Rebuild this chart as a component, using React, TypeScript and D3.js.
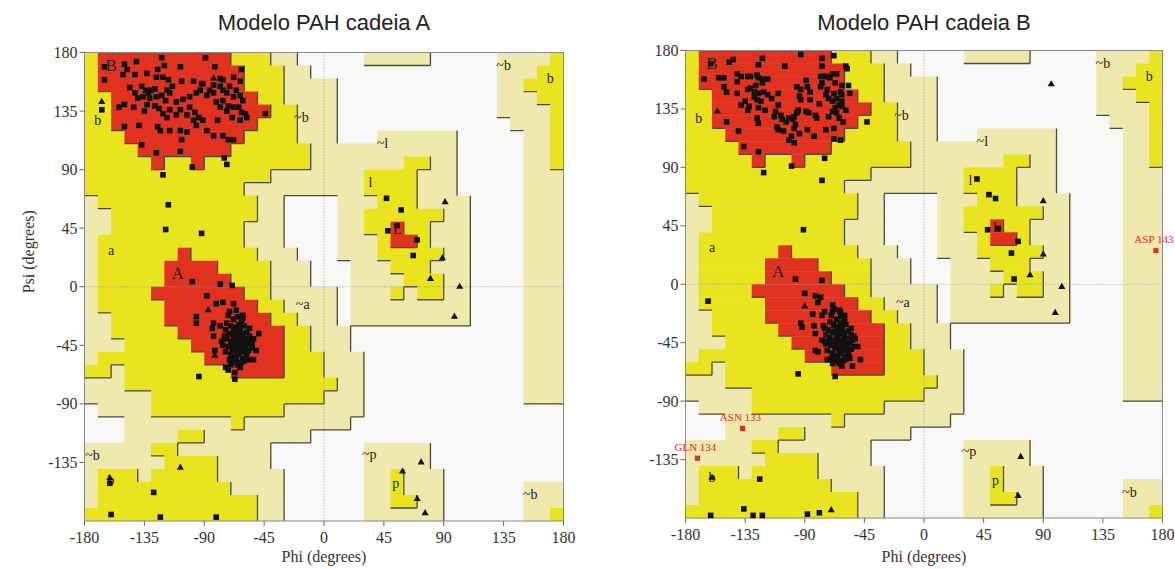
import React from "react";
import * as d3 from "d3";

// region map: 36 rows (psi 180 -> -180) x 36 cols (phi -180 -> 180), 10 degree cells
// run-length: letter + count. "." none, g generous, y allowed, r core
const regionRuns = [
  "y1 r10 y3 g2 .5 g5 .5 g4 y1",
  "y1 r11 y3 g2 .14 g3 y2",
  "y1 r11 y3 g4 .12 g2 y3",
  "y2 r11 y2 g4 .12 g3 y2",
  "y2 r12 y2 g3 .12 g4 y1",
  "y2 r11 y3 g3 .13 g3 y1",
  "y3 r9 y4 g3 .3 g6 .5 g2 y1",
  "y4 r7 y6 g11 .5 g2 y1",
  "y5 r1 y2 r1 y8 g7 y2 g2 .5 g2 y1",
  "y14 g7 y4 g3 .5 g3",
  "y12 g9 y4 g3 .5 g3",
  "g1 y12 g2 .4 g3 y3 g4 .4 g3",
  "g2 y11 g2 .4 g2 y6 g2 .4 g3",
  "g2 y10 g3 .4 g2 y2 r1 y2 g3 .4 g3",
  "g1 y11 g3 .4 g3 y1 r2 y1 g3 .4 g3",
  "g1 y6 r1 y5 g3 .3 g3 y5 g2 .4 g3",
  "g1 y5 r4 y4 g3 .3 g3 y3 g3 .4 g3",
  "g1 y5 r5 y3 g3 .3 g4 y3 g2 .4 g3",
  "g1 y4 r7 y2 g5 .1 g3 y1 g1 y2 g2 .4 g3",
  "g1 y5 r7 y2 g4 .1 g9 .4 g3",
  "g2 y4 r8 y2 g3 .1 g9 .4 g3",
  "g2 y5 r8 y2 g3 .13 g3",
  "g3 y5 r7 y2 g3 .13 g3",
  "g1 y8 r6 y3 g3 .12 g3",
  "y2 g1 y8 r4 y3 g3 .12 g3",
  "g3 y16 g2 .12 g3",
  "g5 y13 g3 .12 g3",
  ".1 g4 y10 g6 .15",
  ".3 g8 y1 g8 .16",
  ".3 g4 y2 g8 .19",
  "g5 y2 g7 .7 g5 .10",
  "g6 y4 g4 .7 g5 .10",
  "g1 y3 g1 y5 g5 .6 g2 y1 g3 .9",
  "g1 y10 g4 .6 g2 y1 g3 .6 g3",
  "g1 y12 g2 .6 g2 y2 g2 .6 g3",
  "y13 g2 .6 g6 .6 g2 y1",
];

const regionFill: Record<string, string> = { g: "#efe9ad", y: "#e9e41e", r: "#e0321f" };
const regionLevel: Record<string, number> = { ".": 0, g: 1, y: 2, r: 3 };

const phiTicks = [-180, -135, -90, -45, 0, 45, 90, 135, 180];
const psiTicks = [-135, -90, -45, 0, 45, 90, 135, 180];

const regionLabels = [
  { t: "B", phi: -160, psi: 170, big: true },
  { t: "b", phi: -170, psi: 128 },
  { t: "A", phi: -110, psi: 10, big: true },
  { t: "a", phi: -160, psi: 28 },
  { t: "~b", phi: -17, psi: 130 },
  { t: "~l", phi: 44, psi: 110 },
  { t: "l", phi: 35, psi: 80 },
  { t: "L", phi: 55, psi: 44 },
  { t: "~a", phi: -16, psi: -14 },
  { t: "~b", phi: -174, psi: -130 },
  { t: "b", phi: -160, psi: -149 },
  { t: "~p", phi: 34, psi: -129 },
  { t: "p", phi: 54, psi: -151 },
  { t: "~b", phi: 135, psi: 170 },
  { t: "b", phi: 170, psi: 160 },
  { t: "~b", phi: 155, psi: -160 },
];

// chain A
const aSquares: number[][] = [
  [-122,176],[-89,176],[-141,173],[-150,171],[-120,170],[-82,169],[-62,167],[-165,169],[-108,169],[-125,167],[-148,167],
  [-165,159],[-151,163],[-142,163],[-133,164],[-126,161],[-117,159],[-107,158],[-98,158],[-91,156],[-76,159],[-68,161],[-63,158],[-121,161],[-83,155],
  [-137,154],[-134,151],[-132,149],[-130,151],[-127,152],[-136,146],[-131,145],[-126,146],[-122,147],[-119,143],[-133,140],[-127,139],[-118,151],[-116,149],[-114,154],[-142,149],[-146,153],[-140,145],
  [-78,154],[-76,151],[-73,149],[-71,154],[-68,146],[-66,151],[-63,147],[-61,143],[-76,143],[-72,139],[-68,138],[-64,138],[-62,134],[-59,133],[-58,130],[-69,130],[-73,135],[-78,138],[-81,142],[-83,149],[-78,160],[-63,128],
  [-111,142],[-106,144],[-101,146],[-96,149],[-92,156],[-93,151],[-88,147],[-86,151],[-101,138],[-97,134],[-94,130],[-91,128],[-98,128],[-103,132],[-108,136],[-111,132],[-116,136],[-118,130],[-121,133],[-124,137],[-108,120],[-103,119],[-96,124],[-88,120],[-83,116],[-76,116],[-72,113],[-68,113],[-80,128],[-116,120],[-123,120],[-125,123],[-139,124],[-150,123],[-135,135],[-143,138],[-154,138],[-150,140],
  [-137,109],[-126,103],[-108,104],[-107,113],[-99,92],[-75,99],[-73,94],[-121,86],[-44,133],
  [-167,136],[-117,63],[-119,44],[-92,41],
  [-99,4],[-78,2],[-69,1],[-88,-7],[-81,-13],[-76,-12],[-68,-13],[-96,-23],[-96,-28],[-83,-28],[-84,-32],[-83,-38],[-61,-22],[-62,-28],[-82,-49],[-74,-62],[-67,-71],[-94,-69],[-51,-49],[-53,-56],[-54,-44],[-49,-36],
  [-72,-22],[-68,-25],[-65,-23],[-62,-27],[-70,-30],[-66,-31],[-63,-33],[-60,-30],[-58,-35],[-74,-33],
  [-71,-36],[-68,-38],[-65,-37],[-62,-39],[-59,-40],[-56,-38],[-73,-40],[-70,-42],[-67,-43],[-64,-44],
  [-61,-45],[-58,-44],[-55,-42],[-72,-46],[-69,-48],[-66,-49],[-63,-47],[-60,-50],[-57,-49],[-54,-47],
  [-70,-52],[-67,-54],[-64,-52],[-61,-55],[-58,-53],[-68,-58],[-65,-60],[-62,-58],[-71,-56],[-74,-50],
  [-76,-45],[-66,-40],[-63,-42],[-60,-42],[-67,-35],[-64,-36],[-61,-36],[-69,-45],[-65,-46],[-62,-48],
  [-59,-47],[-66,-56],[-63,-62],[-70,-60],[-57,-56],[-56,-32],[-53,-40],[-75,-38],[-73,-28],[-64,-29],
  [-68,-33],[-65,-51],[-60,-57],[-72,-64],[-67,-66],[-71,-19],[-66,-18],[-61,-24],[-78,-30],[-77,-42],
  [-128,-158],[-160,-175],[-123,-177],[-81,-177],[-161,-151],
  [47,68],[58,59],[55,47],[48,43],[70,36],[67,24],
];
const aTriangles: number[][] = [
  [-167,142],[-83,160],[-87,-18],[-82,-53],[-161,-147],[-108,-139],
  [91,65],[89,22],[80,6],[102,0],[98,-23],[73,-135],[59,-142],[70,-163],[76,-174],
];

// chain B
const bSquares: number[][] = [
  [-93,177],[-68,176],[-77,174],[-122,174],[-147,171],[-144,173],[-161,170],[-105,168],[-125,169],[-77,168],[-59,168],[-58,166],[-66,162],[-69,162],[-74,160],[-78,160],
  [-166,158],[-155,159],[-151,159],[-141,162],[-138,160],[-133,160],[-131,160],[-126,161],[-125,159],[-121,158],[-122,155],[-118,158],[-141,156],
  [-151,152],[-149,148],[-141,147],[-133,150],[-131,151],[-128,148],[-125,147],[-127,153],[-121,148],[-118,146],[-115,143],[-123,141],[-126,142],[-128,144],[-135,141],[-138,138],[-132,137],[-133,134],[-125,136],[-120,134],[-126,128],[-125,124],[-140,118],[-149,125],[-136,106],[-125,102],[-121,86],
  [-110,147],[-110,138],[-112,133],[-108,130],[-107,127],[-104,125],[-113,129],[-111,121],[-110,119],[-106,118],[-102,111],[-100,114],[-102,128],[-99,127],[-98,129],[-96,132],[-95,134],[-97,123],[-94,116],[-88,119],[-98,120],[-98,109],[-89,133],[-82,130],[-81,128],[-87,132],[-74,119],[-68,112],[-63,111],[-83,114],
  [-96,152],[-93,150],[-94,145],[-88,152],[-89,157],[-86,148],[-86,142],[-93,142],[-79,139],[-78,152],[-77,155],[-73,150],[-74,146],[-72,143],[-69,141],[-68,147],[-66,143],[-63,148],[-62,146],[-62,141],[-64,138],[-67,136],[-69,133],[-66,132],[-62,137],[-59,134],[-56,147],[-57,153],[-62,153],[-67,155],[-71,159],[-72,129],[-64,128],[-61,125],[-68,120],[-75,160],
  [-100,91],[-75,97],[-77,80],[-43,125],[-91,42],
  [-97,4],[-77,3],[-163,-13],[-90,-7],[-80,-14],[-82,-9],[-78,-10],[-84,-23],[-93,-30],[-92,-33],[-83,-32],[-82,-38],[-77,-24],[-75,-21],[-69,-16],[-68,-19],[-63,-21],[-60,-24],[-75,-34],[-82,-51],[-80,-52],[-73,-58],[-68,-56],[-57,-55],[-54,-63],[-48,-58],[-50,-48],[-53,-40],[-95,-69],[-67,-71],[-77,-43],
  [-70,-24],[-66,-27],[-63,-25],[-60,-29],[-68,-31],[-65,-33],[-62,-34],[-59,-31],[-57,-36],[-72,-35],
  [-69,-37],[-66,-39],[-63,-38],[-60,-41],[-57,-42],[-55,-39],[-71,-41],[-68,-43],[-65,-44],[-62,-45],
  [-59,-46],[-56,-45],[-54,-43],[-70,-47],[-67,-49],[-64,-50],[-61,-48],[-58,-51],[-55,-50],[-53,-48],
  [-69,-53],[-66,-55],[-63,-53],[-60,-56],[-57,-54],[-67,-59],[-64,-61],[-61,-59],[-70,-57],[-73,-51],
  [-74,-46],[-65,-41],[-62,-43],[-59,-43],[-66,-36],[-63,-37],[-60,-37],[-68,-46],[-64,-47],[-61,-51],
  [-58,-48],[-65,-57],[-62,-63],[-69,-61],[-56,-57],[-55,-34],[-52,-42],[-74,-39],[-71,-29],[-63,-30],
  [-67,-34],[-64,-52],[-59,-58],[-72,-45],[-66,-47],[-69,-21],[-64,-20],[-60,-26],[-76,-32],[-75,-44],
  [-124,-150],[-161,-178],[-136,-173],[-129,-178],[-122,-178],[-88,-177],[-79,-176],
  [40,81],[49,69],[54,66],[56,43],[48,42],[71,33],[66,24],[68,4],
];
const bTriangles: number[][] = [
  [-156,133],[-90,-17],[-70,-174],[-160,-149],
  [96,154],[90,64],[90,23],[80,7],[104,-2],[99,-22],[73,-133],[71,-163],
];
const bOutliers = [
  { name: "ASN 133", phi: -137, psi: -111 },
  { name: "GLN 134", phi: -171, psi: -134 },
  { name: "ASP 143", phi: 175, psi: 26 },
];

const grid = regionRuns.map((row) =>
  row.split(" ").flatMap((t) => Array(+t.slice(1)).fill(t[0]))
);

const serif = "'Liberation Serif', 'DejaVu Serif', serif";

function Panel({ x0, y0, w, h, title, squares, triangles, outliers = [], psiTitle = false, skipLabels = [] }: any) {
  const xs = d3.scaleLinear().domain([-180, 180]).range([x0, x0 + w]);
  const ys = d3.scaleLinear().domain([180, -180]).range([y0, y0 + h]);
  const cx = (i: number) => xs(-180 + 10 * i);
  const cy = (j: number) => ys(180 - 10 * j);

  const rects: any[] = [];
  grid.forEach((row, j) => {
    let i0 = 0;
    for (let i = 1; i <= row.length; i++) {
      if (i === row.length || row[i] !== row[i0]) {
        if (row[i0] !== ".") {
          rects.push(
            <rect key={`${j}-${i0}`} x={cx(i0)} y={cy(j)} width={cx(i) - cx(i0) + 0.4}
              height={cy(j + 1) - cy(j) + 0.4} fill={regionFill[row[i0]]} />
          );
        }
        i0 = i;
      }
    }
  });

  // darker edge on right / bottom side of a higher region
  let edges = "";
  grid.forEach((row, j) => {
    row.forEach((c, i) => {
      const lv = regionLevel[c];
      if (i < 35 && lv > regionLevel[row[i + 1]])
        edges += `M${cx(i + 1)},${cy(j)}V${cy(j + 1)}`;
      if (j < 35 && lv > regionLevel[grid[j + 1][i]])
        edges += `M${cx(i)},${cy(j + 1)}H${cx(i + 1)}`;
    });
  });

  const sym = d3.symbol().type(d3.symbolTriangle).size(22);

  return (
    <g>
      <text x={x0 + w / 2} y={30} textAnchor="middle" fontFamily="'Liberation Sans', Arial, sans-serif"
        fontSize={22} fill="#222">{title}</text>
      <rect x={x0} y={y0} width={w} height={h} fill="#f8f8f6" />
      {rects}
      <path d={edges} stroke="#4a4a40" strokeWidth={1.3} fill="none" />
      <line x1={xs(0)} x2={xs(0)} y1={y0} y2={y0 + h} stroke="#9a9a9a" strokeDasharray="1,2" />
      <line x1={x0} x2={x0 + w} y1={ys(0)} y2={ys(0)} stroke="#9a9a9a" strokeDasharray="1,2" />
      <rect x={x0} y={y0} width={w} height={h} fill="none" stroke="#8a8a8a" strokeWidth={1} />
      {regionLabels.map((l, k) => skipLabels.includes(k) ? null : (
        <text key={k} x={xs(l.phi)} y={ys(l.psi)} textAnchor="middle" dominantBaseline="central"
          fontFamily={serif} fontSize={l.big ? 17 : 14} fill="#222">{l.t}</text>
      ))}
      {squares.map(([p, s]: number[], k: number) => (
        <rect key={k} x={xs(p) - 2.8} y={ys(s) - 2.8} width={5.6} height={5.6} fill="#111" />
      ))}
      {triangles.map(([p, s]: number[], k: number) => (
        <path key={k} d={sym() as string} transform={`translate(${xs(p)},${ys(s)})`} fill="#111" />
      ))}
      {outliers.map((o: any, k: number) => (
        <g key={k}>
          <rect x={xs(o.phi) - 2.6} y={ys(o.psi) - 2.6} width={5.2} height={5.2} fill="#e03020" />
          <text x={xs(o.phi) - 2} y={ys(o.psi) - 7} textAnchor="middle" fontFamily={serif}
            fontSize={11} fill="#e03020">{o.name}</text>
        </g>
      ))}
      {psiTicks.map((t) => (
        <g key={t}>
          <line x1={x0 - 5} x2={x0} y1={ys(t)} y2={ys(t)} stroke="#666" />
          <text x={x0 - 7} y={ys(t)} textAnchor="end" dominantBaseline="central" fontFamily={serif}
            fontSize={16} fill="#333">{t}</text>
        </g>
      ))}
      {phiTicks.map((t) => (
        <g key={t}>
          <line x1={xs(t)} x2={xs(t)} y1={y0 + h} y2={y0 + h + 5} stroke="#666" />
          <text x={xs(t)} y={y0 + h + 16} textAnchor="middle" dominantBaseline="central" fontFamily={serif}
            fontSize={16} fill="#333">{t}</text>
        </g>
      ))}
      <text x={x0 + w / 2} y={556} textAnchor="middle" dominantBaseline="central" fontFamily={serif}
        fontSize={16} fill="#333">Phi (degrees)</text>
      {psiTitle && (
        <text transform={`translate(28,${y0 + h / 2 - 35}) rotate(-90)`} textAnchor="middle"
          dominantBaseline="central" fontFamily={serif} fontSize={16} fill="#333">Psi (degrees)</text>
      )}
    </g>
  );
}

export default function App() {
  return (
    <svg width={1175} height={569} style={{ position: "absolute", left: 0, top: 0, background: "#fff" }}>
      <Panel x0={84.5} y0={52.5} w={479} h={468.5} title="Modelo PAH cadeia A"
        squares={aSquares} triangles={aTriangles} psiTitle />
      <Panel x0={685.5} y0={50.5} w={477} h={467.5} title="Modelo PAH cadeia B"
        squares={bSquares} triangles={bTriangles} outliers={bOutliers} skipLabels={[9]} />
    </svg>
  );
}
